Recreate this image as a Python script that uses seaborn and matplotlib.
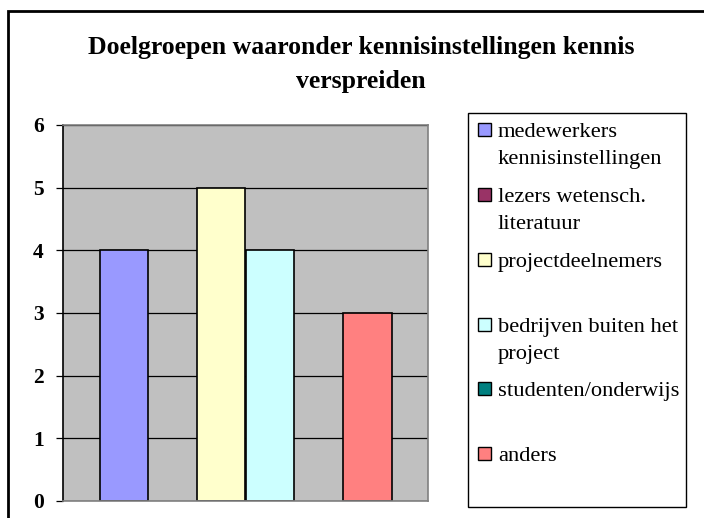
import matplotlib
matplotlib.use("Agg")
import matplotlib.pyplot as plt
import matplotlib.patches as mpatches
import pandas as pd
import seaborn as sns

# data
categories = [
    "medewerkers kennisinstellingen",
    "lezers wetensch. literatuur",
    "projectdeelnemers",
    "bedrijven buiten het project",
    "studenten/onderwijs",
    "anders",
]
legend_labels = [
    ["medewerkers", "kennisinstellingen"],
    ["lezers wetensch.", "literatuur"],
    ["projectdeelnemers"],
    ["bedrijven buiten het", "project"],
    ["studenten/onderwijs"],
    ["anders"],
]
values = [4, 0, 5, 4, 0, 3]
colors = ["#9999FF", "#993366", "#FFFFCC", "#CCFFFF", "#008080", "#FF8080"]
yticks = [0, 1, 2, 3, 4, 5, 6]
title_lines = ["Doelgroepen waaronder kennisinstellingen kennis", "verspreiden"]

W, H = 704, 518


def px(x, y):
    """pixel position (from top left) -> figure fraction"""
    return x / W, 1 - y / H


df = pd.DataFrame({"groep": [""] * len(categories), "doelgroep": categories, "aantal": values})

sns.set_style("white")
plt.rcParams["font.family"] = ["Liberation Serif", "DejaVu Serif"]
plt.rcParams["text.color"] = "black"
plt.rcParams["ytick.color"] = "black"
plt.rcParams["ytick.labelcolor"] = "black"

fig = plt.figure(figsize=(W / 100, H / 100), dpi=100)
ax = fig.add_axes([63 / W, 17 / H, 365 / W, 376 / H])

sns.barplot(
    data=df, x="groep", y="aantal", hue="doelgroep", hue_order=categories,
    palette=colors, saturation=1, width=0.8, edgecolor="black", linewidth=1.2,
    legend=False, ax=ax,
)

ax.set_facecolor("#C0C0C0")
ax.set_ylim(0, 6)
ax.set_xlim(-0.5, 0.5)
ax.set_yticks(yticks)
ax.set_yticklabels([str(t) for t in yticks], fontsize=15.5, fontweight="bold", color="black")
ax.set_xticks([])
ax.set_xlabel("")
ax.set_ylabel("")
ax.yaxis.grid(True, color="black", linewidth=0.9)
ax.set_axisbelow(True)
ax.tick_params(axis="y", left=True, length=5, width=0.9, color="black", pad=9)
for side, sp in ax.spines.items():
    sp.set_visible(True)
    sp.set_color("#808080")
    sp.set_linewidth(1.2)
ax.spines["left"].set_color("black")

# hide the edges of the empty bars
for p in ax.patches:
    if p.get_height() == 0:
        p.set_linewidth(0)

# legend box, drawn like the Excel one
x0, y0 = px(468, 507)
x1, y1 = px(686, 113)
fig.patches.append(mpatches.Rectangle((x0, y0), x1 - x0, y1 - y0, transform=fig.transFigure,
                                      facecolor="white", edgecolor="black", linewidth=1.0))
baselines = [137, 202, 267, 332, 396, 461]
for lines, color, base in zip(legend_labels, colors, baselines):
    hx, hy = px(478, base - 1)
    fig.patches.append(mpatches.Rectangle((hx, hy), 13 / W, 13 / H, transform=fig.transFigure,
                                          facecolor=color, edgecolor="black", linewidth=1.0))
    for k, line in enumerate(lines):
        tx, ty = px(498, base + 27 * k)
        fig.text(tx, ty, line, ha="left", va="baseline", fontsize=16.2, color="black")

# title, two lines like the original
for line, base in zip(title_lines, [54, 88]):
    fig.text(361 / W, px(0, base)[1], line, ha="center", va="baseline",
             fontsize=18.5, fontweight="bold", color="black")

# outer chart frame
fig.patches.append(mpatches.Rectangle((8 / W, -0.05), 1.1, 1.05 - 11 / H,
                                      transform=fig.transFigure, fill=False,
                                      edgecolor="black", linewidth=2))

fig.savefig("out.png", dpi=100)
